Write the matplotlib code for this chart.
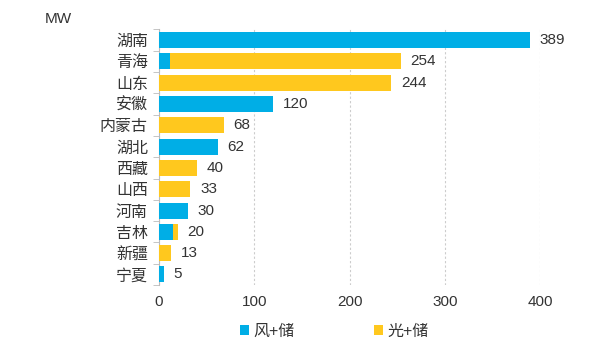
import numpy as np
import matplotlib.pyplot as plt

plt.rcParams['font.family'] = ['Liberation Sans', 'Noto Sans CJK SC', 'DejaVu Sans']

provinces = ['湖南', '青海', '山东', '安徽', '内蒙古', '湖北', '西藏', '山西', '河南', '吉林', '新疆', '宁夏']
wind_storage = [389, 12, 0, 120, 0, 62, 0, 0, 30, 15, 0, 5]
solar_storage = [0, 242, 244, 0, 68, 0, 40, 33, 0, 5, 13, 0]
totals = [389, 254, 244, 120, 68, 62, 40, 33, 30, 20, 13, 5]
xticks = [0, 100, 200, 300, 400]

blue = '#00AEE6'
yellow = '#FFC81E'
text_col = '#333333'

fig = plt.figure(figsize=(6, 3.49), dpi=100)
ax = fig.add_axes([0.265, 0.183, 0.635, 0.733])

y = np.arange(len(provinces))
ax.barh(y, wind_storage, height=0.75, color=blue, label='风+储', zorder=3)
ax.barh(y, solar_storage, left=wind_storage, height=0.75, color=yellow, label='光+储', zorder=3)

for yi, t in zip(y, totals):
    ax.text(t + 10, yi, str(t), va='center', ha='left', fontsize=11, color=text_col)

ax.set_ylim(len(provinces) - 0.5, -0.5)
ax.set_xlim(0, 400)
ax.set_yticks(y)
ax.set_yticklabels(provinces, fontsize=11.5, color=text_col)
ax.set_yticks(np.arange(-0.5, len(provinces), 1), minor=True)
ax.tick_params(axis='y', which='major', length=0, pad=8)
ax.tick_params(axis='y', which='minor', length=4, color='#bbbbbb')
ax.set_xticks(xticks)
ax.set_xticklabels([str(v) for v in xticks], fontsize=11, color=text_col)
ax.tick_params(axis='x', length=0, pad=7)

ax.grid(axis='x', linestyle=(0, (2, 2)), color='#cccccc', linewidth=0.8, zorder=0)
for s in ['top', 'right', 'bottom']:
    ax.spines[s].set_visible(False)
ax.spines['left'].set_color('#bbbbbb')

fig.text(0.075, 0.935, 'MW', fontsize=11, color=text_col)

leg = ax.legend(loc='upper center', bbox_to_anchor=(0.46, -0.095), ncol=2, frameon=False,
                fontsize=11.5, handlelength=0.55, handleheight=0.55, handletextpad=0.25,
                columnspacing=5.0)
for t in leg.get_texts():
    t.set_color(text_col)

fig.savefig('out.png', dpi=100)
